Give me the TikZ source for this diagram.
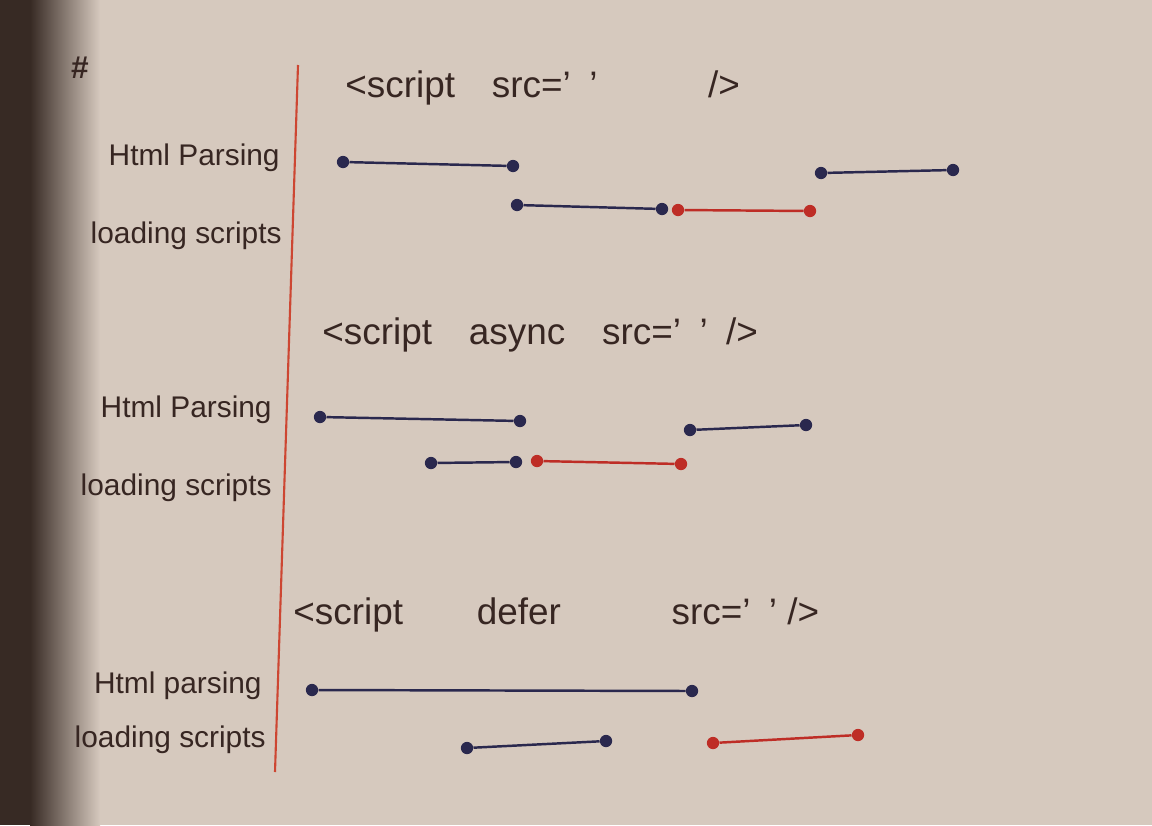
\documentclass[tikz,border=0pt]{standalone}
\usepackage{fontspec}
\setmainfont{Liberation Sans}
\begin{document}
\begin{tikzpicture}[x=0.02cm,y=-0.02cm,
  ink/.style={text=inkc,font=\fontsize{17}{20}\selectfont,inner sep=0pt},
  title/.style={ink,font=\fontsize{21}{24}\selectfont},
  lbl/.style={ink,anchor=east},
  bdot/.style={circle,fill=navy,inner sep=0pt,minimum size=7pt},
  rdot/.style={circle,fill=redc,inner sep=0pt,minimum size=7pt},
  bline/.style={draw=navy,line width=1.4pt},
  rline/.style={draw=redc,line width=1.4pt},
  margin/.style={draw=marginc,line width=1.2pt}]
\definecolor{paper}{RGB}{214,201,190}
\definecolor{shadow}{RGB}{55,42,36}
\definecolor{inkc}{RGB}{55,38,34}
\definecolor{navy}{RGB}{42,40,78}
\definecolor{redc}{RGB}{190,45,38}
\definecolor{marginc}{RGB}{205,70,50}
\useasboundingbox (0,0) rectangle (1152,825);
\fill[paper] (0,0) rectangle (1152,825);
\fill[shadow] (0,0) rectangle (30,825);
\shade[left color=shadow,right color=paper] (30,0) rectangle (100,825);
% margin line
\coordinate (mtop) at (298,65);
\coordinate (mbot) at (275,772);
\draw[margin] (mtop) -- (mbot);
\node[ink,font=\fontsize{18}{20}\selectfont\bfseries] (hash) at (80,68) {\#};
% ---------- section 1
\node[title,anchor=west] (t1) at (345,88) {<script\quad src='\enspace'\qquad\quad />};
\node[lbl] (p1) at (280,158) {Html Parsing};
\node[lbl] (l1) at (282,236) {loading scripts};
\node[bdot] (a1) at (343,162) {};
\node[bdot] (a2) at (513,166) {};
\node[bdot] (a3) at (821,173) {};
\node[bdot] (a4) at (953,170) {};
\node[bdot] (b1) at (517,205) {};
\node[bdot] (b2) at (662,209) {};
\node[rdot] (b3) at (678,210) {};
\node[rdot] (b4) at (810,211) {};
\draw[bline] (a1) -- (a2);
\draw[bline] (a3) -- (a4);
\draw[bline] (b1) -- (b2);
\draw[rline] (b3) -- (b4);
% ---------- section 2
\node[title,anchor=west] (t2) at (322,335) {<script\quad async\quad src='\enspace'\enspace />};
\node[lbl] (p2) at (272,410) {Html Parsing};
\node[lbl] (l2) at (272,488) {loading scripts};
\node[bdot] (c1) at (320,417) {};
\node[bdot] (c2) at (520,421) {};
\node[bdot] (c3) at (690,430) {};
\node[bdot] (c4) at (806,425) {};
\node[bdot] (d1) at (431,463) {};
\node[bdot] (d2) at (516,462) {};
\node[rdot] (d3) at (537,461) {};
\node[rdot] (d4) at (681,464) {};
\draw[bline] (c1) -- (c2);
\draw[bline] (c3) -- (c4);
\draw[bline] (d1) -- (d2);
\draw[rline] (d3) -- (d4);
% ---------- section 3
\node[title,anchor=west] (t3) at (293,615) {<script\qquad defer\qquad\quad src='\enspace' />};
\node[lbl] (p3) at (262,686) {Html parsing};
\node[lbl] (l3) at (266,740) {loading scripts};
\node[bdot] (e1) at (312,690) {};
\node[bdot] (e2) at (692,691) {};
\node[bdot] (f1) at (467,748) {};
\node[bdot] (f2) at (606,741) {};
\node[rdot] (f3) at (713,743) {};
\node[rdot] (f4) at (858,735) {};
\draw[bline] (e1) -- (e2);
\draw[bline] (f1) -- (f2);
\draw[rline] (f3) -- (f4);
\end{tikzpicture}
\end{document}
